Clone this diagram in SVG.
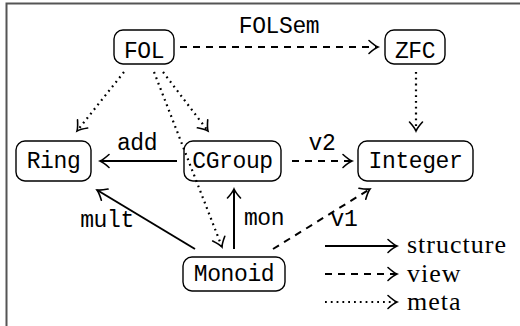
<svg xmlns="http://www.w3.org/2000/svg" width="520" height="326" viewBox="0 0 520 326">
<defs>
<marker id="ah" markerWidth="14" markerHeight="16" refX="0" refY="0" viewBox="-11 -8 13 16" orient="auto" markerUnits="userSpaceOnUse">
<path d="M -9 -6.5 Q -3.5 -1.5 0 0 Q -3.5 1.5 -9 6.5" fill="none" stroke="#000" stroke-width="1.6" stroke-linecap="round"/>
</marker>
</defs>
<style>
.box{fill:#fff;stroke:#000;stroke-width:1.4}
.tt{font-family:"Liberation Mono","DejaVu Sans Mono",monospace;font-size:23px;letter-spacing:-0.4px;fill:#000}
.rm{font-family:"Liberation Serif","DejaVu Serif",serif;font-size:26px;letter-spacing:1px;fill:#000}
.e{fill:none;stroke:#000;stroke-width:2}
.solid{marker-end:url(#ah)}
.dash{stroke-dasharray:7 6;marker-end:url(#ah)}
.dot{stroke-dasharray:1.8 4;stroke-width:2.2;marker-end:url(#ah)}
</style>
<rect width="520" height="326" fill="#fff"/>
<path d="M 6.5 326 V 3.5 H 520" fill="none" stroke="#555" stroke-width="2"/>
<g id="FOL"><rect class="box" x="114" y="30" width="60" height="34" rx="9"/><text class="tt" x="144" y="58" text-anchor="middle">FOL</text></g>
<g id="ZFC"><rect class="box" x="385" y="30" width="60" height="34" rx="9"/><text class="tt" x="415" y="58" text-anchor="middle">ZFC</text></g>
<g id="Ring"><rect class="box" x="16" y="141" width="75" height="40" rx="9"/><text class="tt" x="53.5" y="168" text-anchor="middle">Ring</text></g>
<g id="CGroup"><rect class="box" x="184" y="141" width="97" height="40" rx="9"/><text class="tt" x="232.5" y="168" text-anchor="middle">CGroup</text></g>
<g id="Integer"><rect class="box" x="358" y="141" width="115" height="40" rx="9"/><text class="tt" x="415.5" y="168" text-anchor="middle">Integer</text></g>
<g id="Monoid"><rect class="box" x="183" y="257" width="102" height="34" rx="9"/><text class="tt" x="234" y="281" text-anchor="middle">Monoid</text></g>
<g id="connectors">
<line class="e dash" x1="180" y1="47" x2="378" y2="47"/>
<line class="e dot" x1="124" y1="72" x2="77" y2="131"/>
<line class="e dot" x1="163" y1="72" x2="208" y2="131"/>
<line class="e dot" x1="154" y1="72" x2="222" y2="247"/>
<line class="e dot" x1="416" y1="72" x2="416" y2="131"/>
<line class="e solid" x1="177" y1="161" x2="100" y2="161"/>
<line class="e dash" x1="292" y1="161" x2="352" y2="161"/>
<line class="e solid" x1="195" y1="249" x2="97" y2="190"/>
<line class="e solid" x1="234" y1="249" x2="234" y2="189"/>
<line class="e dash" x1="273" y1="249" x2="370" y2="189"/>
<text class="tt" x="279" y="33" text-anchor="middle">FOLSem</text>
<text class="tt" x="137" y="150" text-anchor="middle">add</text>
<text class="tt" x="322" y="150" text-anchor="middle">v2</text>
<text class="tt" x="107" y="227" text-anchor="middle">mult</text>
<text class="tt" x="264" y="225" text-anchor="middle">mon</text>
<text class="tt" x="344" y="226" text-anchor="middle">v1</text>
</g>
<g id="legend">
<line class="e solid" x1="325" y1="246" x2="397" y2="246"/>
<line class="e dash" x1="325" y1="274" x2="397" y2="274"/>
<line class="e dot" x1="325" y1="302" x2="397" y2="302"/>
<text class="rm" x="407" y="253">structure</text>
<text class="rm" x="407" y="282">view</text>
<text class="rm" x="407" y="310">meta</text>
</g>
</svg>
